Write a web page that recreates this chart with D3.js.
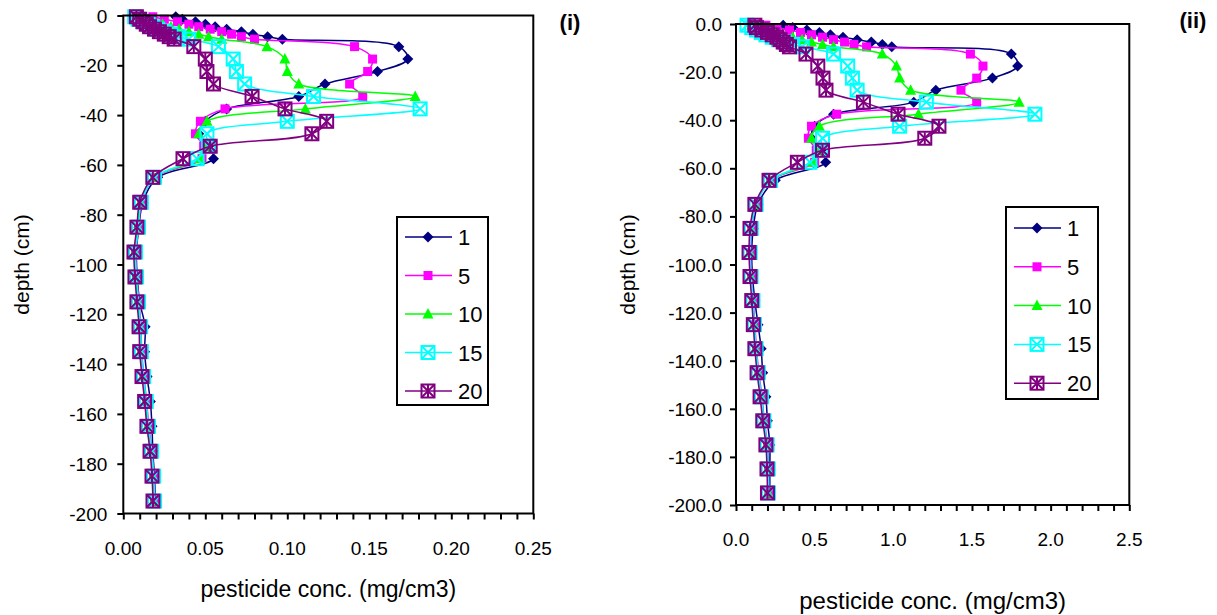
<!DOCTYPE html>
<html><head><meta charset="utf-8">
<script src="https://cdn.jsdelivr.net/npm/d3@7"></script>
<style>body{margin:0;background:#fff}svg{display:block;font-family:Arial,"Liberation Sans",sans-serif}</style>
</head><body><svg id="c" width="1217" height="615"></svg>
<script>
// ---------- DATA ----------
const seriesNames = ["1", "5", "10", "15", "20"];
const depths = [-0.5,-1.5,-2.5,-3.5,-4.5,-5.5,-6.5,-7.5,-8.5,-9.5,-12.5,-17.5,-22.5,-27.5,-32.5,-37.5,-42.5,-47.5,-52.5,-57.5,-65,-75,-85,-95,-105,-115,-125,-135,-145,-155,-165,-175,-185,-195];

// panel (i)
const left1  = [0.032,0.036,0.044,0.050,0.056,0.063,0.072,0.079,0.088,0.097,0.168,0.1735,0.155,0.123,0.107,0.063,0.050,0.046,0.052,0.055,0.021,0.012,0.0095,0.008,0.0085,0.010,0.0133,0.013,0.0145,0.0165,0.0175,0.018,0.019,0.0195];
const left5  = [0.018,0.025,0.033,0.040,0.046,0.053,0.060,0.066,0.072,0.080,0.141,0.152,0.149,0.138,0.146,0.062,0.047,0.044,0.049,0.048,0.0192,0.0112,0.0095,0.0077,0.0083,0.0095,0.0108,0.0112,0.0126,0.0142,0.0156,0.0175,0.0187,0.0193];
const left10 = [0.010,0.014,0.019,0.024,0.029,0.034,0.040,0.046,0.052,0.060,0.0876,0.0985,0.100,0.107,0.178,0.111,0.051,0.046,0.050,0.047,0.0185,0.0105,0.0088,0.007,0.0076,0.0088,0.0101,0.0105,0.0119,0.0135,0.0149,0.0168,0.018,0.0186];
const left15 = [0.007,0.009,0.012,0.015,0.018,0.021,0.025,0.029,0.034,0.040,0.058,0.067,0.069,0.074,0.116,0.181,0.100,0.051,0.052,0.045,0.019,0.011,0.0093,0.0075,0.0081,0.0093,0.0106,0.011,0.0124,0.014,0.0154,0.0173,0.0185,0.0191];
const left20 = [0.008,0.010,0.012,0.014,0.016,0.019,0.022,0.025,0.028,0.031,0.043,0.050,0.051,0.055,0.0785,0.0986,0.124,0.115,0.053,0.0364,0.018,0.010,0.0083,0.0065,0.0071,0.0083,0.0096,0.010,0.0114,0.013,0.0144,0.0163,0.0175,0.0181];

// panel (ii)
const right1  = [0.30,0.36,0.45,0.53,0.60,0.68,0.77,0.86,0.93,0.99,1.75,1.79,1.63,1.27,1.13,0.62,0.50,0.48,0.54,0.57,0.25,0.14,0.11,0.10,0.105,0.12,0.14,0.16,0.17,0.19,0.20,0.215,0.215,0.215];
const right5  = [0.19,0.26,0.34,0.41,0.48,0.55,0.62,0.69,0.75,0.83,1.49,1.57,1.53,1.43,1.53,0.64,0.48,0.46,0.51,0.50,0.22,0.13,0.10,0.094,0.10,0.11,0.12,0.13,0.145,0.165,0.18,0.20,0.207,0.21];
const right10 = [0.10,0.15,0.20,0.25,0.30,0.36,0.42,0.48,0.55,0.62,0.93,1.02,1.04,1.11,1.80,1.16,0.53,0.48,0.52,0.49,0.215,0.125,0.095,0.088,0.094,0.105,0.115,0.125,0.14,0.16,0.175,0.195,0.202,0.205];
const right15 = [0.07,0.10,0.13,0.16,0.19,0.23,0.27,0.31,0.36,0.42,0.62,0.71,0.74,0.77,1.21,1.90,1.04,0.55,0.54,0.47,0.22,0.128,0.097,0.09,0.096,0.108,0.118,0.128,0.142,0.162,0.178,0.198,0.205,0.207];
const right20 = [0.12,0.13,0.165,0.20,0.23,0.26,0.28,0.30,0.32,0.34,0.445,0.52,0.553,0.572,0.81,1.03,1.29,1.20,0.55,0.39,0.21,0.12,0.089,0.083,0.089,0.10,0.11,0.12,0.134,0.153,0.17,0.19,0.197,0.20];

const leftXTicks = [0, 0.05, 0.10, 0.15, 0.20, 0.25];
const rightXTicks = [0, 0.5, 1.0, 1.5, 2.0, 2.5];
const yTicks = [0, -20, -40, -60, -80, -100, -120, -140, -160, -180, -200];

// ---------- STYLE ----------
const colors = ["#000080", "#FF00FF", "#00FF00", "#00FFFF", "#800080"];
const svg = d3.select("#c");
const hy = s => s.replace("\u2212", "-");

function marker(g, i, cx, cy) {
  const c = colors[i];
  if (i === 0) g.append("path").attr("d", "M0,-5.5L5.5,0L0,5.5L-5.5,0Z").attr("fill", c).attr("transform", `translate(${cx},${cy})`);
  else if (i === 1) g.append("rect").attr("x", cx - 4.5).attr("y", cy - 4.5).attr("width", 9).attr("height", 9).attr("fill", c);
  else if (i === 2) g.append("path").attr("d", "M0,-6L5.5,4.5L-5.5,4.5Z").attr("fill", c).attr("transform", `translate(${cx},${cy})`);
  else {
    const m = g.append("g").attr("transform", `translate(${cx},${cy})`).attr("stroke", c).attr("stroke-width", 2).attr("fill", "none");
    m.append("rect").attr("x", -6.5).attr("y", -6.5).attr("width", 13).attr("height", 13);
    m.append("path").attr("d", "M-6,-6L6,6M6,-6L-6,6");
    if (i === 4) m.append("path").attr("d", "M0,-6V6");
  }
}

function panel(cfg) {
  const x = d3.scaleLinear().domain(cfg.xDomain).range([cfg.x0, cfg.x1]);
  const y = d3.scaleLinear().domain([-200, 0]).range([cfg.y1, cfg.y0]);
  const g = svg.append("g");

  // series
  const line = d3.line().x(d => x(d[0])).y(d => y(d[1])).curve(d3.curveCatmullRom.alpha(0.5));
  cfg.series.forEach((vals, i) => {
    const pts = vals.map((v, k) => [v, depths[k]]);
    g.append("path").attr("d", line(pts)).attr("fill", "none").attr("stroke", colors[i]).attr("stroke-width", 1.5);
    const mg = g.append("g");
    pts.forEach(p => marker(mg, i, x(p[0]), y(p[1])));
  });

  // frame
  g.append("rect").attr("x", cfg.x0).attr("y", cfg.y0).attr("width", cfg.x1 - cfg.x0).attr("height", cfg.y1 - cfg.y0)
    .attr("fill", "none").attr("stroke", "#000").attr("stroke-width", 2);

  // x axis
  const xa = d3.axisBottom(x).tickValues(d3.range(0, 26).map(k => k * cfg.xDomain[1] / 25)).tickSize(6).tickFormat("");
  const gx = g.append("g").attr("transform", `translate(0,${cfg.y1})`).call(xa);
  gx.select(".domain").remove();
  gx.selectAll("line").attr("stroke-width", 2);
  g.selectAll(null).data(cfg.xTicks).enter().append("text")
    .attr("x", d => x(d)).attr("y", cfg.y1 + 41).attr("text-anchor", "middle")
    .attr("font-size", 19).text(d => d3.format(cfg.xFmt)(d));

  // y axis
  const ya = d3.axisLeft(y).tickValues(yTicks).tickSize(6).tickFormat("");
  const gy = g.append("g").attr("transform", `translate(${cfg.x0},0)`).call(ya);
  gy.select(".domain").remove();
  gy.selectAll("line").attr("stroke-width", 2);
  g.selectAll(null).data(yTicks).enter().append("text")
    .attr("x", cfg.x0 - cfg.ylabOff).attr("y", d => y(d) + 7).attr("text-anchor", "end")
    .attr("font-size", 19).text(d => hy(d3.format(cfg.yFmt)(d)));

  // titles
  g.append("text").attr("x", (cfg.x0 + cfg.x1) / 2).attr("y", cfg.xTitleY).attr("text-anchor", "middle")
    .attr("font-size", cfg.titleSize).text("pesticide conc. (mg/cm3)");
  g.append("text").attr("transform", `translate(${cfg.yTitleX},${(cfg.y0 + cfg.y1) / 2}) rotate(-90)`).attr("text-anchor", "middle")
    .attr("font-size", 21).text("depth (cm)");
  g.append("text").attr("x", cfg.tagX).attr("y", cfg.tagY).attr("text-anchor", "middle")
    .attr("font-size", 22).attr("font-weight", "bold").text(cfg.tag);

  // legend
  const L = cfg.legend;
  g.append("rect").attr("x", L.x).attr("y", L.y).attr("width", L.w).attr("height", L.h)
    .attr("fill", "#fff").attr("stroke", "#000").attr("stroke-width", 2);
  seriesNames.forEach((name, i) => {
    const yy = L.y + L.first + i * L.step;
    g.append("line").attr("x1", L.x + 8).attr("x2", L.x + 55).attr("y1", yy).attr("y2", yy)
      .attr("stroke", colors[i]).attr("stroke-width", 1.5);
    marker(g, i, L.x + 31, yy);
    g.append("text").attr("x", L.x + 61).attr("y", yy + 8).attr("font-size", 22).text(name);
  });
}

panel({x0: 123.3, x1: 533.3, y0: 15.5, y1: 513.5, xDomain: [0, 0.25], xTicks: leftXTicks, xFmt: ".2f", yFmt: "d",
  ylabOff: 16, xTitleY: 597, yTitleX: 29, titleSize: 23, tag: "(i)", tagX: 570, tagY: 30,
  series: [left1, left5, left10, left15, left20],
  legend: {x: 397, y: 217, w: 91, h: 188, first: 20, step: 38.5}});

panel({x0: 736, x1: 1129.3, y0: 24, y1: 505, xDomain: [0, 2.5], xTicks: rightXTicks, xFmt: ".1f", yFmt: ".1f",
  ylabOff: 14, xTitleY: 609, yTitleX: 635, titleSize: 24, tag: "(ii)", tagX: 1193, tagY: 28,
  series: [right1, right5, right10, right15, right20],
  legend: {x: 1006, y: 207, w: 92, h: 192, first: 21, step: 38.8}});
</script></body></html>
